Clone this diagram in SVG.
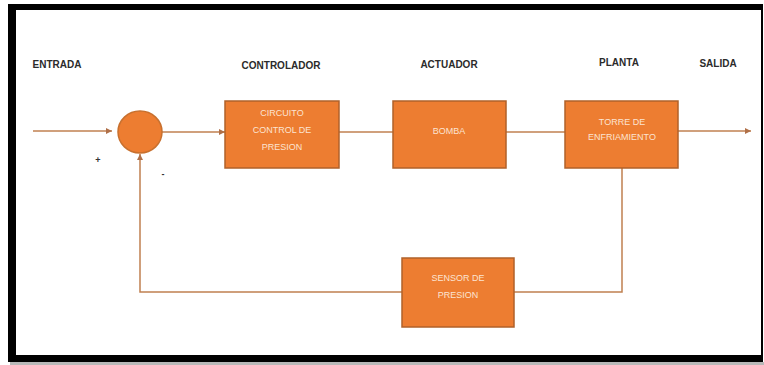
<svg xmlns="http://www.w3.org/2000/svg" width="764" height="365" viewBox="0 0 764 365">
<style>
.lbl{font-family:"Liberation Sans",Arial,sans-serif;font-size:10px;font-weight:bold;fill:#2b2b2b;text-anchor:middle}
.box{fill:#ED7D31;stroke:#B0612A;stroke-width:1.5}
.bt{font-family:"Liberation Sans",Arial,sans-serif;font-size:9px;fill:#FCE4D2;text-anchor:middle}
.ln{fill:none;stroke:#C08050;stroke-width:1.5}
.sg{font-family:"Liberation Sans",Arial,sans-serif;font-size:9px;font-weight:bold;fill:#333;text-anchor:middle}
</style>
<defs>
<marker id="ah" viewBox="0 0 10 10" refX="10" refY="5" markerWidth="6" markerHeight="6" orient="auto" markerUnits="userSpaceOnUse">
<path d="M0,0 L10,5 L0,10 z" fill="#B07048"/>
</marker>
</defs>
<rect x="0" y="0" width="764" height="365" fill="#ffffff"/>
<rect x="10" y="362" width="754" height="3" fill="#b8b8b8"/>
<rect x="8" y="4" width="755" height="358" fill="#000000"/>
<rect x="16" y="10" width="745" height="345" fill="#ffffff"/>

<g id="labels">
<text class="lbl" x="57" y="68">ENTRADA</text>
<text class="lbl" x="281" y="69">CONTROLADOR</text>
<text class="lbl" x="449" y="68">ACTUADOR</text>
<text class="lbl" x="619" y="66">PLANTA</text>
<text class="lbl" x="718" y="67">SALIDA</text>
</g>

<g id="connectors">
<path class="ln" d="M33,131 L112,131" marker-end="url(#ah)"/>
<path class="ln" d="M162,132 L225,132" marker-end="url(#ah)"/>
<path class="ln" d="M339,132 L393,132"/>
<path class="ln" d="M506,132 L565,132"/>
<path class="ln" d="M678,131 L751,131" marker-end="url(#ah)"/>
<path class="ln" d="M622,168 L622,292 L514,292"/>
<path class="ln" d="M402,292 L140,292 L140,154" marker-end="url(#ah)"/>
</g>

<g id="sum">
<ellipse cx="140" cy="132" rx="22" ry="21" fill="#ED7D31" stroke="#C8702E" stroke-width="1.5"/>
<text class="sg" x="98" y="163">+</text>
<text class="sg" x="163" y="177">-</text>
</g>

<g id="controlador">
<rect class="box" x="225" y="101" width="114" height="67"/>
<text class="bt" x="282" y="116">CIRCUITO</text>
<text class="bt" x="282" y="133">CONTROL DE</text>
<text class="bt" x="282" y="150">PRESION</text>
</g>

<g id="actuador">
<rect class="box" x="393" y="101" width="113" height="67"/>
<text class="bt" x="449" y="134">BOMBA</text>
</g>

<g id="planta">
<rect class="box" x="565" y="101" width="113" height="67"/>
<text class="bt" x="622" y="125">TORRE DE</text>
<text class="bt" x="622" y="140">ENFRIAMIENTO</text>
</g>

<g id="sensor">
<rect class="box" x="402" y="258" width="112" height="69"/>
<text class="bt" x="458" y="281">SENSOR DE</text>
<text class="bt" x="458" y="298">PRESION</text>
</g>
</svg>
